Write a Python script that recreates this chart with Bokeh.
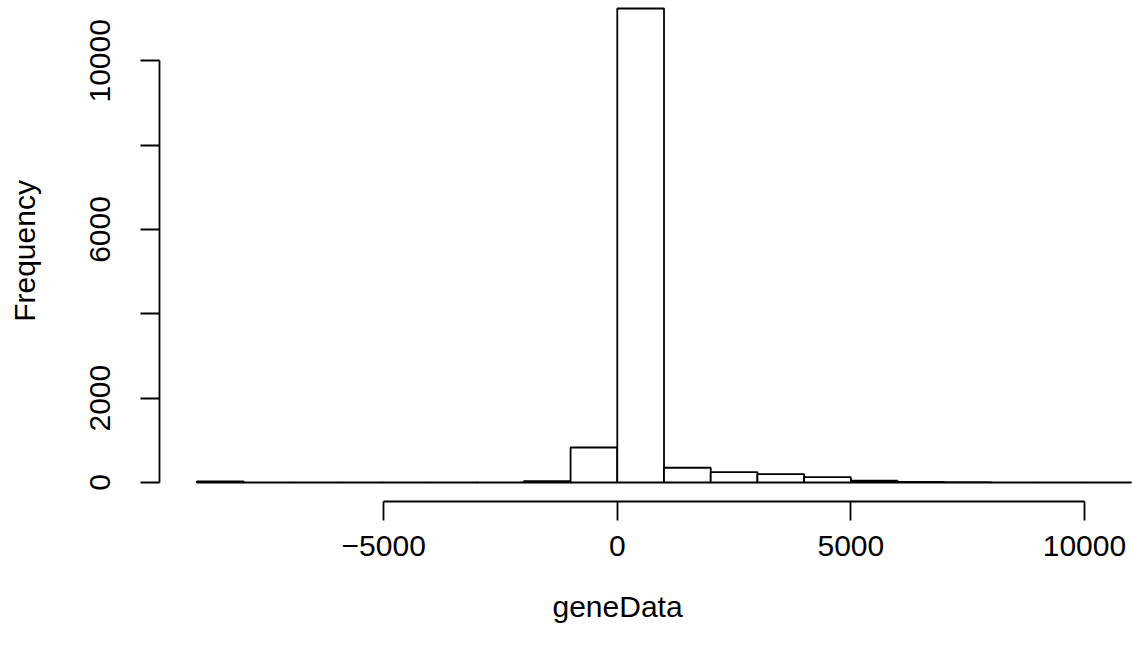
import math
from bokeh.plotting import figure
from bokeh.models import FixedTicker, ColumnDataSource, Title
from bokeh.embed import file_html
from bokeh.resources import INLINE

# Histogram data (bin edges of width 1000, counts)
bin_left = [-9000, -8000, -7000, -6000, -5000, -4000, -3000, -2000, -1000, 0,
            1000, 2000, 3000, 4000, 5000, 6000, 7000, 8000, 9000, 10000]
bin_right = [-8000, -7000, -6000, -5000, -4000, -3000, -2000, -1000, 0, 1000,
             2000, 3000, 4000, 5000, 6000, 7000, 8000, 9000, 10000, 11000]
counts = [25, 1, 1, 2, 1, 2, 5, 30, 830, 11240,
          350, 245, 197, 126, 45, 15, 8, 5, 3, 2]

x_ticks = [-5000, 0, 5000, 10000]
x_tick_labels = ["\u22125000", "0", "5000", "10000"]
y_ticks = [0, 2000, 4000, 6000, 8000, 10000]
y_tick_labels = ["0", "2000", "", "6000", "", "10000"]
x_title = "geneData"
y_title = "Frequency"

FONT = "Liberation Sans"
FS = "30px"

p = figure(width=1132, height=653, output_backend="svg", toolbar_location=None,
           x_range=(-9800, 11029), y_range=(-450, 11430),
           min_border_left=159, min_border_right=0, min_border_top=0,
           min_border_bottom=152)

src = ColumnDataSource(dict(left=bin_left, right=bin_right, top=counts,
                            bottom=[0] * len(counts)))
p.quad(left="left", right="right", top="top", bottom="bottom", source=src,
       fill_color="white", line_color="black", line_width=1.8)

p.outline_line_color = None
p.xgrid.visible = False
p.ygrid.visible = False
p.background_fill_color = "white"
p.border_fill_color = "white"

# x axis
xa = p.xaxis[0]
xa.ticker = FixedTicker(ticks=x_ticks)
xa.major_label_overrides = {t: l for t, l in zip(x_ticks, x_tick_labels)}
xa.bounds = (-5000, 10000)
xa.minor_tick_line_color = None
xa.major_tick_in = 0
xa.major_tick_out = 19
xa.major_tick_line_width = 1.8
xa.axis_line_width = 1.8
xa.axis_line_color = "black"
xa.major_tick_line_color = "black"
xa.major_label_text_font = FONT
xa.major_label_text_font_size = FS
xa.major_label_text_color = "black"
xa.major_label_standoff = 15

# x title placed below, centred under x = 0 as in the reference
p.add_layout(Title(text=x_title, align="left", offset=393, standoff=58,
                   text_font=FONT, text_font_size=FS,
                   text_font_style="normal", text_color="black"), "below")

# y axis
ya = p.yaxis[0]
ya.ticker = FixedTicker(ticks=y_ticks)
ya.major_label_overrides = {t: l for t, l in zip(y_ticks, y_tick_labels)}
ya.bounds = (0, 10000)
ya.axis_label = y_title
ya.minor_tick_line_color = None
ya.major_tick_in = 0
ya.major_tick_out = 19
ya.major_tick_line_width = 1.8
ya.axis_line_width = 1.8
ya.axis_line_color = "black"
ya.major_tick_line_color = "black"
ya.major_label_orientation = "parallel"
ya.major_label_text_font = FONT
ya.major_label_text_font_size = FS
ya.major_label_text_color = "black"
ya.major_label_standoff = 30
ya.axis_label_text_font = FONT
ya.axis_label_text_font_size = FS
ya.axis_label_text_font_style = "normal"
ya.axis_label_text_color = "black"
ya.axis_label_standoff = 47

open("out.html", "w").write(file_html(p, INLINE))
